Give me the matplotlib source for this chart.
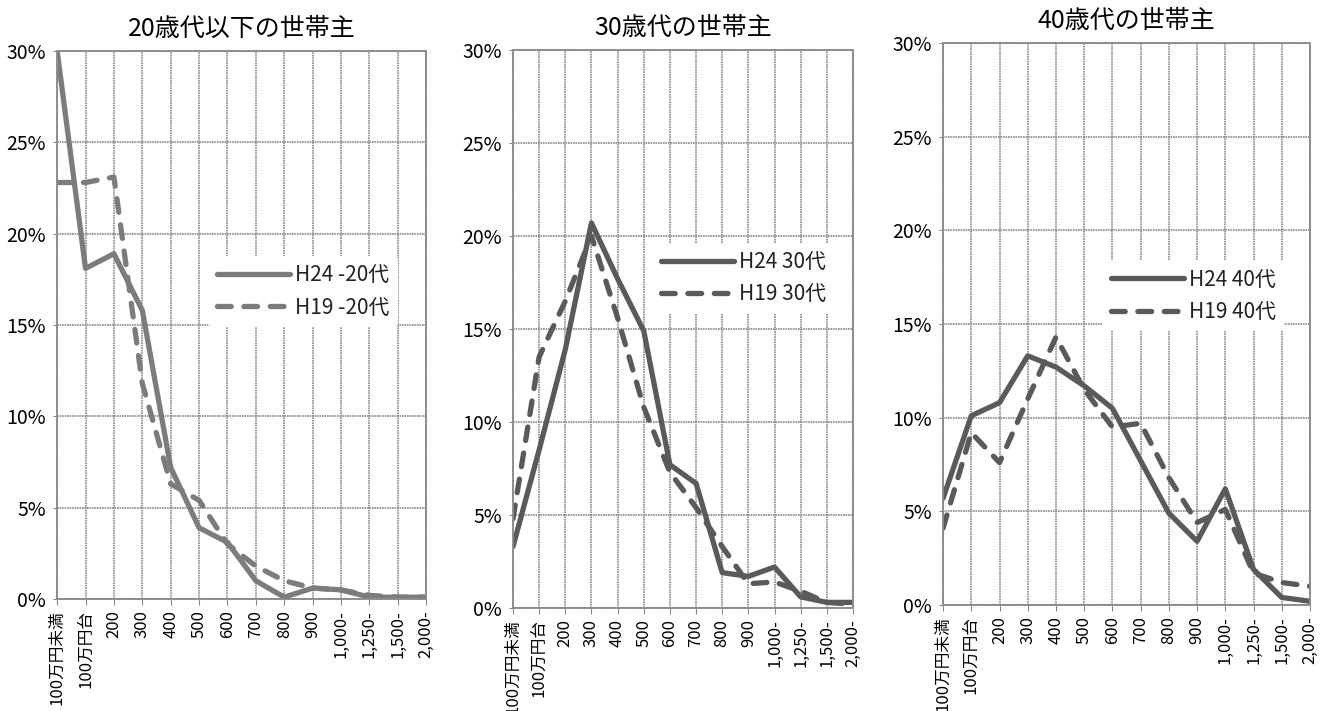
import matplotlib
matplotlib.use('Agg')
import matplotlib.pyplot as plt
from matplotlib.ticker import FuncFormatter

plt.rcParams['font.family'] = ['Noto Sans CJK JP', 'DejaVu Sans']

# 世帯年収の階級（万円）
categories = ['100万円未満', '100万円台', '200', '300', '400', '500', '600',
              '700', '800', '900', '1,000-', '1,250-', '1,500-', '2,000-']

# 世帯主の年齢別 所得階級の分布（%）
h24_20 = [30.0, 18.1, 18.9, 15.8, 7.2, 3.9, 3.1, 1.0, 0.1, 0.6, 0.5, 0.1, 0.1, 0.1]
h19_20 = [22.8, 22.8, 23.1, 11.8, 6.3, 5.4, 3.0, 1.8, 1.0, 0.6, 0.5, 0.2, 0.1, 0.1]

h24_30 = [3.3, 8.5, 13.9, 20.7, 17.7, 14.9, 7.7, 6.7, 1.9, 1.7, 2.2, 0.6, 0.3, 0.3]
h19_30 = [4.8, 13.5, 16.5, 20.0, 15.6, 10.8, 7.3, 5.4, 3.3, 1.3, 1.4, 0.9, 0.3, 0.2]

h24_40 = [5.7, 10.1, 10.8, 13.3, 12.7, 11.7, 10.5, 7.7, 4.9, 3.4, 6.2, 1.9, 0.4, 0.2]
h19_40 = [4.1, 9.2, 7.6, 11.0, 14.3, 11.5, 9.5, 9.7, 6.8, 4.4, 5.1, 1.7, 1.2, 1.0]

panels = [
    ('20歳代以下の世帯主', h24_20, h19_20, 'H24 -20代', 'H19 -20代', '#7c7c7c',
     [0.043, 0.1575, 0.2777, 0.7708], (0.41, 0.561)),
    ('30歳代の世帯主', h24_30, h19_30, 'H24 30代', 'H19 30代', '#5a5a5a',
     [0.386, 0.1449, 0.2558, 0.7848], (0.41, 0.591)),
    ('40歳代の世帯主', h24_40, h19_40, 'H24 40代', 'H19 40代', '#5a5a5a',
     [0.7096, 0.1491, 0.2761, 0.7904], (0.435, 0.55)),
]

fig = plt.figure(figsize=(13.29, 7.11), dpi=100)
x = list(range(len(categories)))
grid_col = '#8a8a8a'

for title, s24, s19, lab24, lab19, col, rect, leg_pos in panels:
    ax = fig.add_axes(rect)
    ax.plot(x, s24, color=col, lw=3.8, solid_joinstyle='round',
            solid_capstyle='round', label=lab24)
    ax.plot(x, s19, color=col, lw=3.8, dashes=(2.6, 2.4),
            dash_capstyle='round', label=lab19)

    ax.set_xlim(0, len(categories) - 1)
    ax.set_ylim(0, 30)
    ax.set_yticks(range(0, 31, 5))
    ax.yaxis.set_major_formatter(FuncFormatter(lambda v, p: f'{int(v)}%'))
    ax.set_xticks(x)
    ax.set_xticklabels(categories, rotation=90, fontsize=12)
    ax.tick_params(axis='y', labelsize=14, length=3, color=grid_col, pad=5)
    ax.tick_params(axis='x', length=4, color=grid_col, pad=4)

    ax.grid(True, color=grid_col, lw=1.2, linestyle=(0, (1, 0.5)))
    ax.set_axisbelow(True)
    for sp in ax.spines.values():
        sp.set_color(grid_col)
        sp.set_linewidth(1.2)
        sp.set_linestyle((0, (1, 0.5)))

    ax.set_title(title, fontsize=18, pad=11)

    leg = ax.legend(loc='center left', bbox_to_anchor=leg_pos, fontsize=15,
                    frameon=True, facecolor='white', edgecolor='none',
                    framealpha=1, handlelength=3.5, handletextpad=0.25,
                    labelspacing=0.5, borderpad=0.4, borderaxespad=0)
    for t in leg.get_texts():
        t.set_color('#222222')

fig.savefig('out.png', dpi=100, facecolor='white')
